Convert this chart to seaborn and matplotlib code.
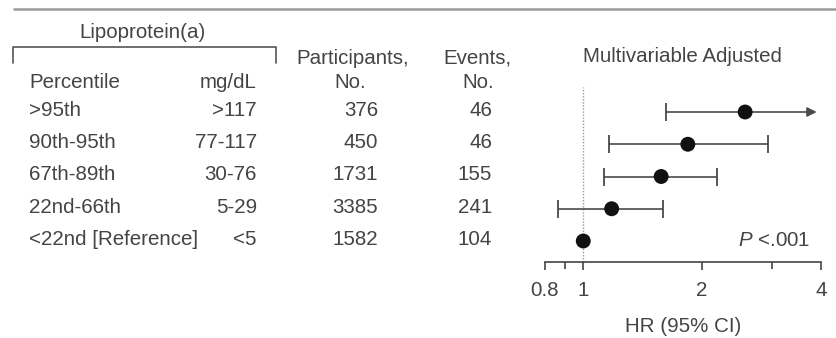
import numpy as np
import pandas as pd
import matplotlib
matplotlib.use("Agg")
import matplotlib.pyplot as plt
import seaborn as sns

# Lipoprotein(a) categories and hazard ratios
percentile = [">95th", "90th-95th", "67th-89th", "22nd-66th", "<22nd [Reference]"]
mg_dl = [">117", "77-117", "30-76", "5-29", "<5"]
participants = [376, 450, 1731, 3385, 1582]
events = [46, 46, 155, 241, 104]
hr = [2.57, 1.84, 1.575, 1.18, 1.0]
ci_low = [1.62, 1.16, 1.13, 0.865, np.nan]
ci_high = [4.4, 2.94, 2.18, 1.59, np.nan]
x_ticks = [0.8, 1, 2, 4]
x_tick_labels = ["0.8", "1", "2", "4"]
x_minor = [0.9, 3]
p_text = "$P$ <.001"

df = pd.DataFrame({"row": np.arange(len(hr)), "hr": hr,
                   "lo": ci_low, "hi": ci_high})

sns.set_theme(style="white")
plt.rcParams["font.family"] = ["Liberation Sans", "DejaVu Sans"]
plt.rcParams["mathtext.fontset"] = "custom"
plt.rcParams["mathtext.it"] = "Liberation Sans:italic"
plt.rcParams["mathtext.rm"] = "Liberation Sans"

W, H = 837, 338
TXT = "#444444"
FS = 14.8
fig = plt.figure(figsize=(W / 100, H / 100), dpi=100)

# overlay axes in pixel units for the table part
tab = fig.add_axes([0, 0, 1, 1])
tab.set_xlim(0, W)
tab.set_ylim(H, 0)
tab.axis("off")

# forest panel
ax_left, ax_right, ax_top, ax_bot = 545, 821, 87, 262
ax = fig.add_axes([ax_left / W, 1 - ax_bot / H,
                   (ax_right - ax_left) / W, (ax_bot - ax_top) / H])
row_px = [112, 144.3, 176.5, 208.8, 241]
spacing = (row_px[-1] - row_px[0]) / 4
y_top = (ax_top - row_px[0]) / spacing
y_bot = (ax_bot - row_px[0]) / spacing

# top rule and bracket
tab.plot([13, W], [8.5, 8.5], color="#9a9a9a", lw=1.8, solid_capstyle="butt")
tab.plot([13, 13, 276, 276], [63, 47, 47, 63], color="#555555", lw=1.2)
tab.text(143, 32, "Lipoprotein(a)", ha="center", va="center", fontsize=FS, color=TXT)

tab.text(29, 82, "Percentile", ha="left", va="center", fontsize=FS, color=TXT)
tab.text(257, 82, "mg/dL", ha="right", va="center", fontsize=FS, color=TXT)
tab.text(353, 58, "Participants,", ha="center", va="center", fontsize=FS, color=TXT)
tab.text(350, 82, "No.", ha="center", va="center", fontsize=FS, color=TXT)
tab.text(477, 58, "Events,", ha="center", va="center", fontsize=FS, color=TXT)
tab.text(478, 82, "No.", ha="center", va="center", fontsize=FS, color=TXT)
tab.text(682, 57, "Multivariable Adjusted", ha="center", va="center", fontsize=FS, color=TXT)

for i in range(len(percentile)):
    y = row_px[i] - 1.5
    tab.text(29, y, percentile[i], ha="left", va="center", fontsize=FS, color=TXT)
    tab.text(257, y, mg_dl[i], ha="right", va="center", fontsize=FS, color=TXT)
    tab.text(378, y, f"{participants[i]}", ha="right", va="center", fontsize=FS, color=TXT)
    tab.text(492, y, f"{events[i]}", ha="right", va="center", fontsize=FS, color=TXT)

tab.text(810, row_px[-1], p_text, ha="right", va="center", fontsize=FS, color=TXT)

# forest plot
ax.set_xscale("log")
ax.set_xlim(0.8, 4)
ax.set_ylim(y_bot, y_top)
ax.axvline(1, color="#9a9a9a", lw=1.0, ls=(0, (1, 1.2)), zorder=1)

LINE = "#4a4a4a"
x_max = ax.get_xlim()[1]
for r in df.itertuples():
    if np.isnan(r.lo):
        continue
    if r.hi <= x_max:
        ax.errorbar([r.hr], [r.row], xerr=[[r.hr - r.lo], [r.hi - r.hr]],
                    fmt="none", ecolor=LINE, elinewidth=1.2, capsize=6.5,
                    capthick=1.3, zorder=2)
    else:
        tip = x_max * 0.975
        ax.plot([r.lo], [r.row], marker="|", ms=13, mew=1.3, color=LINE, zorder=2)
        ax.annotate("", xy=(tip, r.row), xytext=(r.lo, r.row),
                    arrowprops=dict(arrowstyle="-|>", color=LINE, lw=1.2,
                                    mutation_scale=14, shrinkA=0, shrinkB=0),
                    zorder=2)

sns.scatterplot(data=df, x="hr", y="row", ax=ax, s=115, color="#111111",
                edgecolor="none", zorder=3, legend=False)

for side in ["top", "right", "left"]:
    ax.spines[side].set_visible(False)
ax.spines["bottom"].set_color("#444444")
ax.spines["bottom"].set_linewidth(1.2)
ax.set_yticks([])
ax.set_ylabel("")
ax.set_xticks(x_ticks)
ax.set_xticklabels(x_tick_labels)
ax.set_xticks(x_minor, minor=True)
ax.xaxis.set_minor_formatter(matplotlib.ticker.NullFormatter())
ax.tick_params(axis="x", which="major", bottom=True, length=6, width=1.2,
               color="#444444", labelsize=FS, labelcolor=TXT, pad=8)
ax.tick_params(axis="x", which="minor", bottom=True, length=5, width=1.2,
               color="#444444")
ax.set_xlabel("HR (95% CI)", fontsize=FS, color=TXT, labelpad=12)
ax.patch.set_alpha(0)

fig.savefig("out.png", dpi=100)
